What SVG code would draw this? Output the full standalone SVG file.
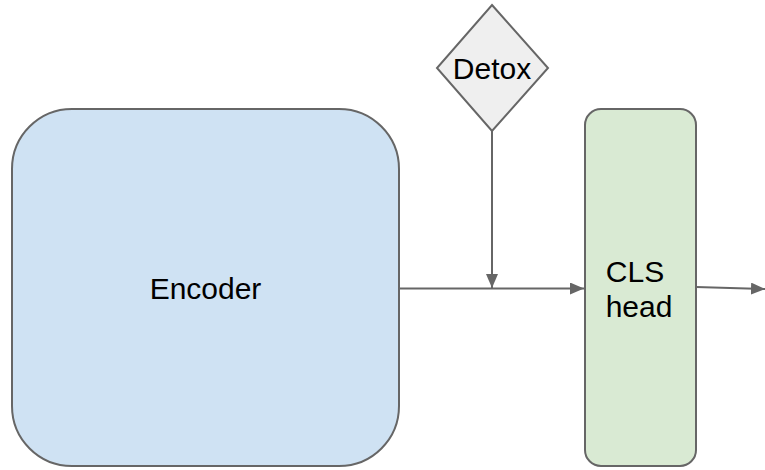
<svg xmlns="http://www.w3.org/2000/svg" width="765" height="470" viewBox="0 0 765 470">
<style>
.lbl{font-family:"Liberation Sans",Arial,sans-serif;font-size:30px;fill:#000}
.edge{stroke:#666;stroke-width:2;fill:none}
</style>
<defs>
<marker id="ah" viewBox="0 0 10 10" refX="10" refY="5" markerWidth="7" markerHeight="6" orient="auto" markerUnits="strokeWidth" preserveAspectRatio="none">
<path d="M0,0 L10,5 L0,10 z" fill="#666"/>
</marker>
</defs>
<rect width="765" height="470" fill="#fff"/>
<g id="encoder">
<rect x="12" y="109" width="387" height="357" rx="60" ry="60" fill="#cfe2f3" stroke="#666" stroke-width="2"/>
<text class="lbl" x="205.5" y="299" text-anchor="middle">Encoder</text>
</g>
<g id="cls-head">
<rect x="585" y="109" width="111" height="357" rx="16" ry="16" fill="#d9ead3" stroke="#666" stroke-width="2"/>
<text class="lbl" x="635" y="282" text-anchor="middle">CLS</text>
<text class="lbl" x="639" y="317" text-anchor="middle">head</text>
</g>
<g id="detox">
<polygon points="492,5 548,68 492,131 437,68" fill="#efefef" stroke="#666" stroke-width="2"/>
<text class="lbl" x="492" y="79" text-anchor="middle">Detox</text>
</g>
<g id="connectors">
<line class="edge" x1="399" y1="288.5" x2="584" y2="288.5" marker-end="url(#ah)"/>
<line class="edge" x1="492" y1="131" x2="492" y2="288" marker-end="url(#ah)"/>
<line class="edge" x1="696" y1="287" x2="765" y2="289" marker-end="url(#ah)"/>
</g>
</svg>
